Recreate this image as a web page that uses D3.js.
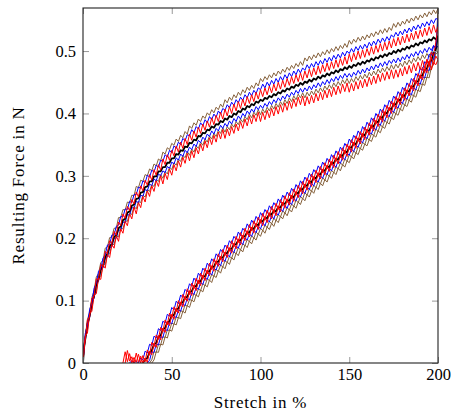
<!DOCTYPE html>
<html>
<head>
<meta charset="utf-8">
<script src="https://cdn.jsdelivr.net/npm/d3@7"></script>
<style>
  body { margin: 0; background: #fff; }
  svg text { font-family: "Liberation Serif", serif; }
</style>
</head>
<body>
<script>
// sample positions (stretch in %)
const xUp = [0,0.6,1.25,2.5,3.75,5,6.25,7.5,8.75,10,11.25,12.5,13.75,15,16.25,17.5,18.75,20,21.25,22.5,23.75,25,26.25,27.5,28.75,30,31.25,32.5,33.75,35,36.25,37.5,38.75,40,41.25,42.5,43.75,45,46.25,47.5,48.75,50,51.25,52.5,53.75,55,56.25,57.5,58.75,60,61.25,62.5,63.75,65,66.25,67.5,68.75,70,71.25,72.5,73.75,75,76.25,77.5,78.75,80,81.25,82.5,83.75,85,86.25,87.5,88.75,90,91.25,92.5,93.75,95,96.25,97.5,98.75,100,101.25,102.5,103.75,105,106.25,107.5,108.75,110,111.25,112.5,113.75,115,116.25,117.5,118.75,120,121.25,122.5,123.75,125,126.25,127.5,128.75,130,131.25,132.5,133.75,135,136.25,137.5,138.75,140,141.25,142.5,143.75,145,146.25,147.5,148.75,150,151.25,152.5,153.75,155,156.25,157.5,158.75,160,161.25,162.5,163.75,165,166.25,167.5,168.75,170,171.25,172.5,173.75,175,176.25,177.5,178.75,180,181.25,182.5,183.75,185,186.25,187.5,188.75,190,191.25,192.5,193.75,195,196.25,197.5,198.75,200];
const xDown = [198.75,197.5,196.25,195,193.75,192.5,191.25,190,188.75,187.5,186.25,185,183.75,182.5,181.25,180,178.75,177.5,176.25,175,173.75,172.5,171.25,170,168.75,167.5,166.25,165,163.75,162.5,161.25,160,158.75,157.5,156.25,155,153.75,152.5,151.25,150,148.75,147.5,146.25,145,143.75,142.5,141.25,140,138.75,137.5,136.25,135,133.75,132.5,131.25,130,128.75,127.5,126.25,125,123.75,122.5,121.25,120,118.75,117.5,116.25,115,113.75,112.5,111.25,110,108.75,107.5,106.25,105,103.75,102.5,101.25,100,98.75,97.5,96.25,95,93.75,92.5,91.25,90,88.75,87.5,86.25,85,83.75,82.5,81.25,80,78.75,77.5,76.25,75,73.75,72.5,71.25,70,68.75,67.5,66.25,65,63.75,62.5,61.25,60,58.75,57.5,56.25,55,53.75,52.5,51.25,50,48.75,47.5,46.25,45,43.75,42.5,41.25,40,38.75,37.5,36.25,35,33.75,32.5,31.25,30,28.75,27.5,26.25,25,23.75,22.5,21.25];

// forces in mN: loading branch (up) and unloading branch (down)
const brownA_up = [0,27,
  41,70,81,105,116,138,143,161,164,184,186,201,202,216,216,233,233,246,245,258,
  257,269,268,283,281,293,291,302,300,311,308,319,316,327,324,338,335,345,342,352,
  349,359,355,365,361,371,367,380,376,385,381,391,387,396,392,401,397,406,401,410,
  406,415,410,422,417,426,421,430,425,434,429,438,433,442,437,445,440,449,444,456,
  451,459,454,462,457,465,460,468,463,471,466,474,469,477,472,480,475,483,477,489,
  484,492,486,494,489,497,491,499,494,502,496,504,499,507,501,509,504,512,506,517,
  511,519,514,522,516,524,518,526,521,529,523,531,526,534,528,536,530,538,533,544,
  538,546,540,548,543,551,545,553,548,556,550,558,553,561,555,563,558,566,560,568];
const brownA_down = [499,478,474,457,458,445,447,435,437,426,429,418,421,411,414,404,407,397,400,390,
  393,383,386,376,379,369,372,362,365,355,358,348,351,341,344,334,337,327,331,321,
  324,314,318,308,312,302,306,296,300,290,294,284,288,278,282,272,276,266,270,260,
  264,254,258,248,252,242,246,236,241,231,235,225,229,219,224,214,218,208,213,203,
  207,197,201,191,195,185,189,178,182,172,176,165,169,158,162,151,155,144,148,137,
  140,129,133,122,125,114,117,106,109,98,101,89,92,80,83,71,73,61,63,51,
  53,40,42,29,30,17,18,5,0];

const brownB_up = [0,26,
  41,53,78,88,108,116,135,139,156,158,174,175,190,190,204,202,216,215,228,227,
  240,238,251,247,259,257,269,266,278,275,286,283,294,291,302,296,307,303,314,310,
  321,317,327,323,333,329,339,333,343,338,348,344,354,349,359,354,364,359,368,363,
  373,368,377,370,379,374,383,378,387,382,391,386,395,390,399,393,402,397,406,398,
  407,401,410,404,413,407,416,410,419,413,422,416,425,419,428,422,431,425,433,425,
  434,428,436,430,439,433,441,435,444,438,446,440,449,443,451,445,454,448,456,448,
  456,450,459,453,461,455,463,457,466,460,468,462,471,465,473,467,475,469,478,471,
  479,473,481,475,484,478,486,480,489,483,491,485,494,488,496,490,499,493,501,498];
const brownB_down = [495,489,470,470,457,458,446,448,436,439,428,431,420,424,413,417,406,410,399,403,
  392,396,385,389,378,382,371,375,364,368,357,361,350,354,343,347,336,340,330,334,
  323,327,317,321,311,315,305,309,299,303,293,297,287,291,281,285,275,279,269,273,
  263,267,257,261,251,255,245,249,240,244,234,238,228,232,223,227,217,221,212,216,
  206,210,200,204,194,198,188,191,181,185,175,178,168,171,161,164,154,157,147,150,
  139,142,132,135,124,127,116,119,108,111,100,102,91,93,82,84,72,74,62,64,
  52,53,41,42,29,30,17,18,5,0];

const blueA_up = [0,26,
  47,61,86,96,120,128,147,151,168,173,189,190,205,205,219,221,235,234,247,246,
  259,257,270,270,282,280,292,289,301,298,309,306,317,314,325,323,334,330,341,337,
  348,344,354,350,360,356,366,364,374,369,379,375,385,380,390,385,395,390,399,394,
  404,399,408,405,414,409,418,413,422,417,426,421,430,425,434,428,437,432,441,438,
  447,441,450,444,453,447,456,450,459,453,462,456,465,459,468,462,471,465,473,469,
  478,472,480,474,483,477,485,479,488,482,490,484,493,487,495,489,498,492,500,496,
  504,498,507,501,509,503,511,505,514,508,516,510,519,513,521,515,523,517,526,522,
  530,524,532,526,535,529,537,531,540,534,542,536,545,539,547,541,550,544,552,551];
const blueA_down = [506,508,493,495,480,483,469,473,459,464,451,456,443,449,436,442,429,435,422,428,
  415,421,408,414,401,407,394,400,387,393,380,386,373,379,366,372,359,365,353,359,
  346,352,340,346,334,340,328,334,322,328,316,322,310,316,304,310,298,304,292,298,
  286,292,280,286,274,280,268,274,263,269,257,263,251,257,246,252,240,246,235,241,
  229,235,223,229,217,223,211,216,204,210,198,203,191,196,184,189,177,182,170,175,
  162,167,155,160,147,152,139,144,131,136,123,127,114,118,105,109,95,99,85,89,
  75,78,64,67,52,55,40,43,28,30,16,19,5,8,0,3,0,4,0];

const blueB_up = [0,24,
  35,62,73,97,104,126,131,149,152,168,170,185,186,200,200,213,213,226,225,238,
  237,249,248,259,257,269,267,278,276,287,284,295,292,303,300,308,305,315,312,322,
  319,329,325,335,331,341,337,346,342,351,347,357,353,362,358,367,363,372,367,376,
  372,381,376,384,379,388,383,392,387,396,391,400,395,404,399,407,402,411,406,413,
  408,416,411,419,414,422,417,425,420,428,423,431,426,434,429,437,432,440,434,441,
  436,444,438,446,441,449,443,451,446,454,448,456,451,459,453,461,456,464,458,464,
  458,466,461,469,463,471,465,473,468,476,470,478,473,481,475,483,477,485,480,487,
  481,489,483,491,486,494,488,496,491,499,493,501,496,504,498,506,501,509,503,508];
const blueB_down = [505,486,483,469,470,457,459,447,449,438,441,430,433,423,426,416,419,409,412,402,
  405,395,398,388,391,381,384,374,377,367,370,360,363,353,356,346,349,339,343,333,
  336,326,330,320,324,314,318,308,312,302,306,296,300,290,294,284,288,278,282,272,
  276,266,270,260,264,254,258,248,253,243,247,237,241,231,236,226,230,220,225,215,
  219,209,213,203,207,197,201,190,194,184,188,177,181,170,174,163,167,156,160,149,
  152,141,145,134,137,126,129,118,121,110,113,101,104,92,95,83,85,73,75,63,
  65,52,54,41,42,29,30,17,18,4,0];

const black_up = [0,25,
  38,62,76,97,108,127,135,150,156,170,175,187,191,202,205,216,219,229,231,241,
  243,252,254,263,264,273,274,282,283,291,291,299,299,307,307,314,314,321,321,328,
  328,335,334,341,340,347,346,353,352,358,357,364,363,369,368,374,373,379,377,383,
  382,388,386,392,390,396,394,400,398,404,402,408,406,412,410,415,413,419,417,422,
  420,425,423,428,426,431,429,434,432,437,435,440,438,443,441,446,444,449,446,451,
  449,454,451,456,454,459,456,461,459,464,461,466,464,469,466,471,469,474,471,476,
  473,478,476,481,478,483,480,485,483,488,485,490,488,493,490,495,492,497,495,500,
  497,502,499,504,502,507,504,509,507,512,509,514,512,517,514,519,517,522,519,524];
const black_down = [503,497,485,482,472,470,461,460,451,451,443,443,435,436,428,429,421,422,414,415,
  407,408,400,401,393,394,386,387,379,380,372,373,365,366,358,359,351,352,345,346,
  338,339,332,333,326,327,320,321,314,315,308,309,302,303,296,297,290,291,284,285,
  278,279,272,273,266,267,260,261,255,256,249,250,243,244,238,239,232,233,227,228,
  221,222,215,216,209,210,203,203,196,197,190,190,183,183,176,176,169,169,162,162,
  154,154,147,147,139,139,131,131,123,123,115,114,106,105,97,96,87,86,77,76,
  67,65,56,54,44,42,32,30,20,17,8,6,0];

const redA_up = [0,24,
  36,69,74,104,107,135,134,158,155,179,175,196,191,211,205,226,220,239,232,251,
  244,262,255,274,266,284,276,293,285,302,293,310,301,318,309,327,318,334,325,341,
  332,348,338,354,344,360,350,367,357,372,362,378,368,383,373,388,378,393,382,397,
  387,402,391,407,396,411,400,415,404,419,408,423,412,427,416,430,419,434,423,438,
  427,441,430,444,433,447,436,450,439,453,442,456,445,459,448,462,451,465,453,468,
  457,471,459,473,462,476,464,478,467,481,469,483,472,486,474,488,477,491,479,495,
  483,497,486,500,488,502,490,504,493,507,495,509,498,512,500,514,502,516,505,520,
  508,522,510,524,513,527,515,529,518,532,520,534,523,537,525,539,528,542,530,539];
const redA_down = [514,492,498,478,485,466,474,456,464,447,456,439,448,432,441,425,434,418,427,411,
  420,404,413,397,406,390,399,383,392,376,385,369,378,362,371,355,364,348,358,342,
  351,335,345,329,339,323,333,317,327,311,321,305,315,299,309,293,303,287,297,281,
  291,275,285,269,279,263,273,257,268,252,262,246,256,240,251,235,245,229,240,224,
  234,218,228,212,222,206,216,199,209,193,203,186,196,179,189,172,182,165,175,158,
  167,150,160,143,152,135,144,127,136,119,128,110,119,101,110,92,100,82,90,72,
  80,61,69,50,57,38,45,26,33,13,21,2,12,0,14,1,9,0,15,2,
  18,0];

const redB_up = [0,23,
  43,48,79,83,109,111,136,134,157,152,174,169,190,184,204,195,215,208,227,220,
  239,231,250,239,257,249,267,258,276,267,284,275,292,283,300,287,304,294,311,301,
  318,308,324,314,330,320,336,324,340,329,345,335,351,340,356,345,361,350,365,354,
  370,359,374,360,375,364,379,368,383,372,387,376,391,380,395,383,398,387,402,387,
  402,390,405,393,408,396,411,399,414,402,417,405,420,408,423,411,426,414,428,412,
  427,415,429,417,432,420,434,422,437,425,439,427,442,430,444,432,447,435,449,434,
  448,436,451,439,453,441,455,443,458,446,460,448,463,451,465,453,467,455,470,456,
  470,458,472,460,475,463,477,465,480,468,482,470,485,473,487,475,490,478,492,486];
const redB_down = [478,482,470,484,465,472,454,462,444,453,436,445,428,438,421,431,414,424,407,417,
  400,410,393,403,386,396,379,389,372,382,365,375,358,368,351,361,344,354,338,348,
  331,341,325,335,319,329,313,323,307,317,301,311,295,305,289,299,283,293,277,287,
  271,281,265,275,259,269,253,263,248,258,242,252,236,246,231,241,225,235,220,230,
  214,224,208,218,202,212,196,205,189,199,183,192,176,185,169,178,162,171,155,164,
  147,156,140,149,132,141,124,133,116,125,108,116,99,107,90,98,80,88,70,78,
  60,67,49,56,37,44,25,32,13,19,1,8,0,11,1,16,0,10,3,20,
  0];

const xTicks = [0,50,100,150,200];
const yTicks = [0,0.1,0.2,0.3,0.4,0.5];

const brown = '#85603a';

const series = [
  {up: brownA_up, down: brownA_down, color: brown, w: 1},
  {up: brownB_up, down: brownB_down, color: brown, w: 1},
  {up: blueB_up, down: blueB_down, color: '#0000ff', w: 1},
  {up: black_up, down: black_down, color: '#000', w: 1.8},
  {up: blueA_up, down: blueA_down, color: '#0000ff', w: 1},
  {up: redB_up, down: redB_down, color: '#ff0000', w: 1},
  {up: redA_up, down: redA_down, color: '#ff0000', w: 1}
];

const W = 451, H = 415;
const mLeft = 83, mRight = 438, mTop = 8, mBottom = 363;
const font = '"Liberation Serif", serif';

const svg = d3.select('body').append('svg')
  .attr('width', W).attr('height', H);

const x = d3.scaleLinear().domain([0, 200]).range([mLeft, mRight]);
const y = d3.scaleLinear().domain([0, 0.569]).range([mBottom, mTop]);

svg.append('clipPath').attr('id', 'plot')
  .append('rect').attr('x', mLeft).attr('y', mTop)
  .attr('width', mRight - mLeft).attr('height', mBottom - mTop);

const line = d3.line().x(d => x(d[0])).y(d => y(d[1] / 1000));

const g = svg.append('g').attr('clip-path', 'url(#plot)');
series.forEach(s => {
  let pts = xUp.map((v, i) => [v, s.up[i]]);
  pts = pts.concat(s.down.map((v, i) => [xDown[i], v]));
  pts = pts.filter(p => p[0] !== undefined && p[1] !== undefined);
  g.append('path')
    .attr('d', line(pts))
    .attr('fill', 'none')
    .attr('stroke', s.color)
    .attr('stroke-width', s.w)
    .attr('stroke-linejoin', 'round');
});

// axes, ticks pointing inward
let axL = svg.append('g').attr('transform', `translate(${mLeft},0)`)
  .call(d3.axisLeft(y).tickValues(yTicks).tickSizeInner(-6).tickSizeOuter(0).tickPadding(7).tickFormat(d3.format('')));
let axB = svg.append('g').attr('transform', `translate(0,${mBottom})`)
  .call(d3.axisBottom(x).tickValues(xTicks).tickSizeInner(-6).tickSizeOuter(0).tickPadding(5));
let axT = svg.append('g').attr('transform', `translate(0,${mTop})`)
  .call(d3.axisTop(x).tickValues(xTicks).tickSizeInner(-6).tickSizeOuter(0).tickFormat(''));
let axR = svg.append('g').attr('transform', `translate(${mRight},0)`)
  .call(d3.axisRight(y).tickValues(yTicks).tickSizeInner(-6).tickSizeOuter(0).tickFormat(''));

[axL, axB, axT, axR].forEach(a => {
  a.attr('font-family', font).attr('font-size', 16.5);
  a.select('.domain').remove();
  a.selectAll('.tick line').attr('stroke', '#999').attr('stroke-width', 1);
  a.selectAll('text').attr('fill', '#000');
});

svg.append('rect')
  .attr('x', mLeft).attr('y', mTop)
  .attr('width', mRight - mLeft).attr('height', mBottom - mTop)
  .attr('fill', 'none').attr('stroke', '#222').attr('stroke-width', 1.1);

svg.append('text')
  .attr('x', (mLeft + mRight) / 2).attr('y', 408)
  .attr('text-anchor', 'middle')
  .attr('font-family', font)
  .attr('font-size', '17px')
  .attr('letter-spacing', '0.8px')
  .text('Stretch in %');

svg.append('text')
  .attr('transform', `translate(24,${(mTop + mBottom) / 2}) rotate(-90)`)
  .attr('text-anchor', 'middle')
  .attr('font-family', font)
  .attr('font-size', '17px')
  .attr('letter-spacing', '0.8px')
  .text('Resulting Force in N');
</script>
</body>
</html>
